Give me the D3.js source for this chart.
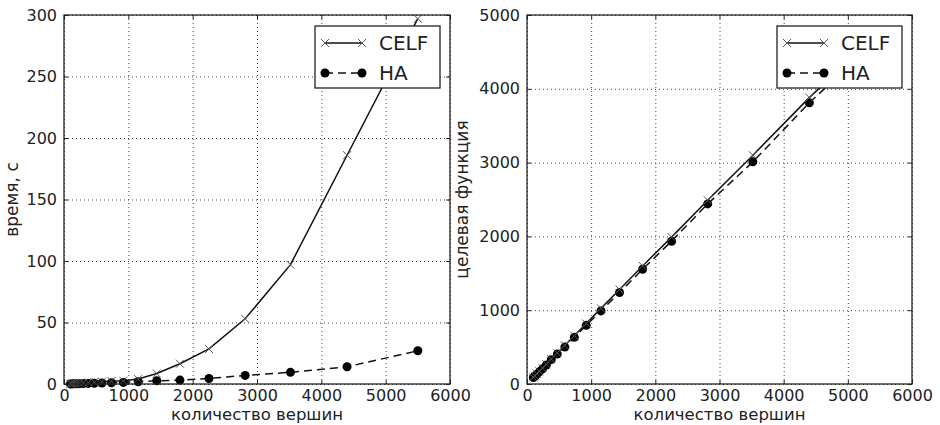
<!doctype html>
<html lang="ru">
<head>
<meta charset="utf-8">
<title>CELF vs HA</title>
<script src="https://cdn.jsdelivr.net/npm/d3@7"></script>
<style>
    body { margin: 0; background: #fff; }
    text { font-family: "DejaVu Sans", sans-serif; fill: #222; }
    .tick text { font-size: 16px; }
    .grid .tick line { stroke: #444; stroke-dasharray: 1,3; }
    .domain { display: none; }
    .inner .tick line { stroke: #222; }
</style>
</head>
<body>
<svg id="chart" width="940" height="425"></svg>
<script>
// number of vertices (shared by both panels)
const vertices = [99, 124, 155, 193, 242, 302, 378, 472, 590, 738, 923, 1153, 1442, 1802, 2253, 2816, 3520, 4400, 5500];

// running time, s
const timeCELF = [0.3, 0.4, 0.5, 0.6, 0.8, 1.0, 1.2, 1.5, 1.9, 2.4, 2.6, 4, 8.5, 16.5, 28.5, 53, 97, 186, 297];
const timeHA = [0.1, 0.1, 0.2, 0.2, 0.3, 0.4, 0.5, 0.6, 0.8, 1.0, 1.3, 1.8, 2.6, 3.2, 4.5, 7, 9.5, 14, 27];

// objective function
const objCELF = [90, 112, 140, 172, 215, 268, 338, 420, 525, 655, 820, 1025, 1280, 1600, 1990, 2490, 3100, 3880, 4790];
const objHA = [88, 105, 133, 165, 205, 258, 330, 405, 500, 632, 795, 990, 1240, 1555, 1935, 2440, 3010, 3810, 4700];

const xTickValues = [0, 1000, 2000, 3000, 4000, 5000, 6000];
const timeTickValues = [0, 50, 100, 150, 200, 250, 300];
const objTickValues = [0, 1000, 2000, 3000, 4000, 5000];

const xLabel = "количество вершин";
const seriesNames = ["CELF", "HA"];

const svg = d3.select("#chart");
const plotTop = 15, plotBottom = 384;

const crossPath = "M-4,-4L4,4M-4,4L4,-4";

function drawPanel(left, right, yMax, yTicks, celf, ha, yLabel) {
    const w = right - left, h = plotBottom - plotTop;
    const x = d3.scaleLinear().domain([0, 6000]).range([0, w]);
    const y = d3.scaleLinear().domain([0, yMax]).range([h, 0]);

    const g = svg.append("g").attr("transform", `translate(${left},${plotTop})`);

    // dotted grid
    g.append("g").attr("class", "grid")
        .attr("transform", `translate(0,${h})`)
        .call(d3.axisBottom(x).tickValues(xTickValues).tickSize(-h).tickFormat(""));
    g.append("g").attr("class", "grid")
        .call(d3.axisLeft(y).tickValues(yTicks).tickSize(-w).tickFormat(""));

    // inward ticks on all four sides
    g.append("g").attr("class", "inner")
        .attr("transform", `translate(0,${h})`)
        .call(d3.axisBottom(x).tickValues(xTickValues).tickSize(-4).tickPadding(6).tickFormat(d3.format("d")));
    g.append("g").attr("class", "inner")
        .call(d3.axisLeft(y).tickValues(yTicks).tickSize(-4).tickPadding(7).tickFormat(d3.format("d")));
    g.append("g").attr("class", "inner")
        .call(d3.axisTop(x).tickValues(xTickValues).tickSize(-4).tickFormat(""));
    g.append("g").attr("class", "inner")
        .attr("transform", `translate(${w},0)`)
        .call(d3.axisRight(y).tickValues(yTicks).tickSize(-4).tickFormat(""));

    const line = d3.line()
        .x((d, i) => x(vertices[i]))
        .y(d => y(d));

    // HA: dashed with dots
    g.append("path").datum(ha)
        .attr("d", line)
        .attr("fill", "none")
        .attr("stroke", "#111")
        .attr("stroke-width", 1.5)
        .attr("stroke-dasharray", "8,5");
    g.selectAll(".dot").data(ha).enter().append("circle")
        .attr("cx", (d, i) => x(vertices[i]))
        .attr("cy", d => y(d))
        .attr("r", 4.5)
        .attr("fill", "#000");

    // CELF: solid with crosses
    g.append("path").datum(celf)
        .attr("d", line)
        .attr("fill", "none")
        .attr("stroke", "#111")
        .attr("stroke-width", 1.5);
    g.selectAll(".cross").data(celf).enter().append("path")
        .attr("d", crossPath)
        .attr("transform", (d, i) => `translate(${x(vertices[i])},${y(d)})`)
        .attr("stroke", "#555")
        .attr("stroke-width", 1);

    // frame
    g.append("rect")
        .attr("width", w).attr("height", h)
        .attr("fill", "none").attr("stroke", "#222").attr("stroke-width", 1.3);

    // axis labels
    g.append("text")
        .attr("x", w / 2).attr("y", h + 36)
        .attr("text-anchor", "middle")
        .style("font-size", "16.5px")
        .text(xLabel);
    g.append("text")
        .attr("transform", `translate(${yLabel.dx},${h / 2}) rotate(-90)`)
        .attr("text-anchor", "middle")
        .style("font-size", "17px")
        .text(yLabel.text);

    // legend
    const lx = w - 135, ly = 11;
    const leg = g.append("g").attr("transform", `translate(${lx},${ly})`);
    leg.append("rect")
        .attr("width", 125).attr("height", 62)
        .attr("fill", "#fff").attr("stroke", "#222").attr("stroke-width", 1.3);
    seriesNames.forEach((name, k) => {
        const ry = 17 + k * 30;
        leg.append("line")
            .attr("x1", 10).attr("x2", 47).attr("y1", ry).attr("y2", ry)
            .attr("stroke", "#111").attr("stroke-width", 1.5)
            .attr("stroke-dasharray", k === 1 ? "8,5" : null);
        [10, 47].forEach(px => {
            if (k === 0) {
                leg.append("path").attr("d", crossPath)
                    .attr("transform", `translate(${px},${ry})`)
                    .attr("stroke", "#555").attr("stroke-width", 1);
            } else {
                leg.append("circle").attr("cx", px).attr("cy", ry).attr("r", 4.5).attr("fill", "#000");
            }
        });
        leg.append("text")
            .attr("x", 64).attr("y", ry).attr("dy", "0.36em")
            .style("font-size", "20px")
            .text(name);
    });
}

drawPanel(64, 450, 300, timeTickValues, timeCELF, timeHA, {text: "время, с", dx: -46});
drawPanel(527, 912, 5000, objTickValues, objCELF, objHA, {text: "целевая функция", dx: -59});
</script>
</body>
</html>
